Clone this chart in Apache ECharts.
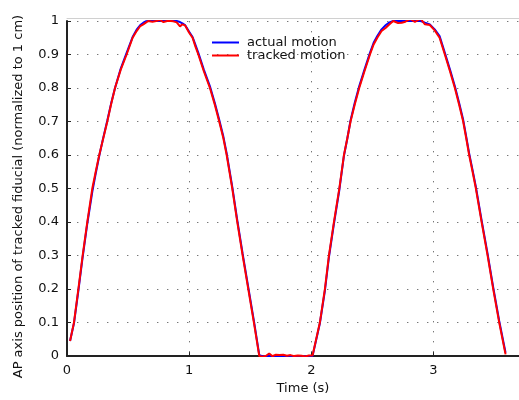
<!DOCTYPE html>
<html>
<head>
<meta charset="utf-8">
<script src="https://cdn.jsdelivr.net/npm/echarts@6/dist/echarts.min.js"></script>
<style>
  html, body { margin: 0; padding: 0; background: #fff; }
  #chart { width: 519px; height: 400px; }
</style>
</head>
<body>
<div id="chart"></div>
<script>
var timeS = [0.025, 0.057, 0.093, 0.128, 0.166, 0.207, 0.235, 0.264, 0.297, 0.33,
  0.36, 0.393, 0.44, 0.488, 0.537, 0.57, 0.60, 0.625, 0.645, 0.665,
  0.70, 0.73, 0.76, 0.79, 0.82, 0.85, 0.87, 0.898, 0.925, 0.945,
  0.966, 1.00, 1.028, 1.05, 1.075, 1.12, 1.17, 1.21, 1.246, 1.28,
  1.307, 1.33, 1.353, 1.394, 1.438, 1.484, 1.53, 1.574, 1.60, 1.63,
  1.655, 1.68, 1.71, 1.74, 1.77, 1.80, 1.83, 1.86, 1.89, 1.92,
  1.95, 1.98, 2.01, 2.07, 2.111, 2.144, 2.185, 2.229, 2.267, 2.295,
  2.321, 2.355, 2.392, 2.435, 2.48, 2.51, 2.54, 2.575, 2.61, 2.64,
  2.67, 2.685, 2.71, 2.74, 2.77, 2.81, 2.848, 2.894, 2.93, 2.97,
  3.01, 3.05, 3.093, 3.135, 3.175, 3.21, 3.243, 3.268, 3.292, 3.32,
  3.347, 3.394, 3.443, 3.489, 3.538, 3.59];

var actualMotion = [0.045, 0.098, 0.195, 0.295, 0.395, 0.49, 0.545, 0.598, 0.652, 0.703,
  0.752, 0.80, 0.858, 0.905, 0.952, 0.974, 0.988, 0.995, 0.999, 1.0,
  1.0, 1.0, 1.0, 1.0, 1.0, 1.0, 1.0, 1.0, 0.997, 0.993,
  0.988, 0.968, 0.952, 0.93, 0.905, 0.855, 0.805, 0.755, 0.705, 0.655,
  0.605, 0.555, 0.505, 0.405, 0.305, 0.205, 0.105, 0.003, 0.0, 0.0,
  0.0, 0.0, 0.0, 0.0, 0.0, 0.0, 0.0, 0.0, 0.0, 0.0,
  0.0, 0.0, 0.0, 0.098, 0.195, 0.295, 0.395, 0.495, 0.598, 0.65,
  0.703, 0.755, 0.805, 0.855, 0.905, 0.935, 0.955, 0.975, 0.988, 0.996,
  1.0, 1.0, 1.0, 1.0, 1.0, 1.0, 1.0, 1.0, 0.995, 0.99,
  0.975, 0.955, 0.905, 0.855, 0.805, 0.755, 0.705, 0.655, 0.605, 0.555,
  0.505, 0.405, 0.305, 0.205, 0.105, 0.01];

var trackedMotion = [0.045, 0.10, 0.20, 0.30, 0.40, 0.50, 0.55, 0.60, 0.65, 0.70,
  0.75, 0.80, 0.855, 0.90, 0.95, 0.97, 0.985, 0.99, 0.995, 1.0,
  0.998, 1.0, 1.003, 0.997, 1.0, 1.0, 0.999, 0.996, 0.984, 0.99,
  0.987, 0.965, 0.95, 0.925, 0.90, 0.85, 0.80, 0.75, 0.70, 0.65,
  0.60, 0.55, 0.50, 0.40, 0.30, 0.20, 0.10, 0.0, -0.002, 0.001,
  0.008, 0.0, 0.004, 0.003, 0.004, 0.001, 0.003, 0.0, 0.002, 0.001,
  -0.001, 0.002, 0.002, 0.10, 0.20, 0.30, 0.40, 0.50, 0.60, 0.65,
  0.70, 0.75, 0.80, 0.85, 0.90, 0.93, 0.95, 0.97, 0.98, 0.99,
  1.0, 1.004, 0.994, 0.995, 0.998, 1.006, 0.997, 1.007, 0.99, 0.988,
  0.972, 0.95, 0.90, 0.85, 0.80, 0.75, 0.70, 0.65, 0.60, 0.55,
  0.50, 0.40, 0.30, 0.20, 0.10, 0.005];

var seriesNames = ['actual motion', 'tracked motion'];
var seriesColors = ['#0000ff', '#ff0000'];

function pairs(values) {
  var out = [];
  for (var i = 0; i < timeS.length; i++) {
    out.push([timeS[i], values[i]]);
  }
  return out;
}

var chart = echarts.init(document.getElementById('chart'));
var font = 'DejaVu Sans';
var dotted = { color: '#777', width: 1, type: [1.4, 8.6] };

var option = {
  animation: false,
  backgroundColor: '#fff',
  textStyle: { fontFamily: font },
  grid: { left: 67, right: 0, top: 21, bottom: 43 },
  legend: {
    orient: 'vertical',
    left: 207,
    top: 31,
    icon: 'rect',
    itemWidth: 27,
    itemHeight: 2,
    itemGap: 0,
    data: seriesNames,
    textStyle: { fontFamily: font, fontSize: 13, color: '#111', padding: [0, 0, 0, 3] }
  },
  xAxis: [{
    type: 'value',
    min: 0,
    max: 3.7,
    interval: 1,
    offset: 3,
    name: 'Time (s)',
    nameLocation: 'middle',
    nameGap: 16,
    nameTextStyle: { fontFamily: font, fontSize: 13, color: '#111', padding: [0, 0, 0, 20] },
    axisLine: { lineStyle: { color: '#222', width: 2 } },
    axisTick: { inside: true, length: 4, lineStyle: { color: '#222' } },
    axisLabel: {
      fontFamily: font, fontSize: 13, color: '#111', margin: 5,
      showMaxLabel: false,
      formatter: function (v) { return Math.abs(v - Math.round(v)) < 1e-6 ? String(Math.round(v)) : ''; }
    },
    splitLine: { show: true, lineStyle: dotted }
  }, {
    type: 'value',
    position: 'top',
    min: 0,
    max: 3.7,
    offset: 2.5,
    axisLine: { show: true, lineStyle: { color: '#d0d0d0', width: 1 } },
    axisTick: { show: false },
    axisLabel: { show: false },
    splitLine: { show: false }
  }],
  yAxis: {
    type: 'value',
    min: 0,
    max: 1,
    interval: 0.1,
    name: 'AP axis position of tracked fiducial (normalized to 1 cm)',
    nameLocation: 'middle',
    nameGap: 42,
    nameTextStyle: { fontFamily: font, fontSize: 13, color: '#111', padding: [0, 16, 0, 0] },
    axisLine: { show: true, lineStyle: { color: '#222', width: 2 } },
    axisTick: { show: true, inside: true, length: 4, lineStyle: { color: '#222' } },
    axisLabel: {
      fontFamily: font, fontSize: 13, color: '#111', margin: 8,
      formatter: function (v) { return String(Math.round(v * 10) / 10); }
    },
    splitLine: { show: true, lineStyle: dotted }
  },
  series: seriesNames.map(function (name, i) {
    return {
      name: name,
      type: 'line',
      showSymbol: false,
      symbol: 'none',
      color: seriesColors[i],
      lineStyle: { color: seriesColors[i], width: 2 },
      data: pairs(i === 0 ? actualMotion : trackedMotion),
      z: 2 + i
    };
  })
};

chart.setOption(option);
</script>
</body>
</html>
